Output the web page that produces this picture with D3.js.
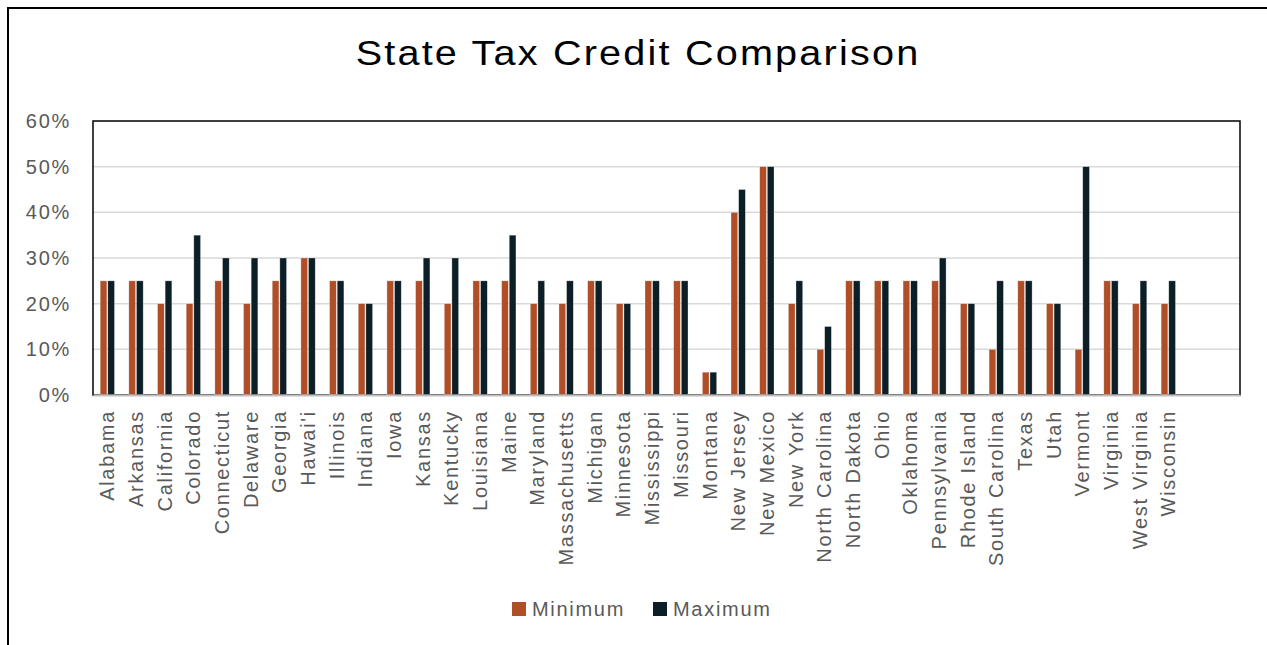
<!DOCTYPE html>
<html>
<head>
<meta charset="utf-8">
<script src="https://cdn.jsdelivr.net/npm/d3@7"></script>
<style>
  body { margin: 0; background: #fff; }
  text { font-family: "Liberation Sans", Arial, sans-serif; }
</style>
</head>
<body>
<div class="chart"></div>
<script>
var states = ["Alabama", "Arkansas", "California", "Colorado", "Connecticut", "Delaware",
  "Georgia", "Hawai'i", "Illinois", "Indiana", "Iowa", "Kansas", "Kentucky", "Louisiana",
  "Maine", "Maryland", "Massachusetts", "Michigan", "Minnesota", "Mississippi", "Missouri",
  "Montana", "New Jersey", "New Mexico", "New York", "North Carolina", "North Dakota",
  "Ohio", "Oklahoma", "Pennsylvania", "Rhode Island", "South Carolina", "Texas", "Utah",
  "Vermont", "Virginia", "West Virginia", "Wisconsin"];

var minimum = [25, 25, 20, 20, 25, 20, 25, 30, 25, 20, 25, 25, 20, 25, 25, 20, 20, 25, 20,
  25, 25, 5, 40, 50, 20, 10, 25, 25, 25, 25, 20, 10, 25, 20, 10, 25, 20, 20];

var maximum = [25, 25, 25, 35, 30, 30, 30, 30, 25, 20, 25, 30, 30, 25, 35, 25, 25, 25, 20,
  25, 25, 5, 45, 50, 25, 15, 25, 25, 25, 30, 20, 25, 25, 20, 50, 25, 25, 25];

// two empty slots at the end of the category axis, as in the source sheet
var blankSlots = [" ", "  "];

var seriesNames = ["Minimum", "Maximum"];
var seriesColors = ["#B04E28", "#0D1F26"];
var yTicks = [0, 10, 20, 30, 40, 50, 60];

var svgWidth = 1267;
var svgHeight = 645;

var margin = {
  top: 121,
  right: 27,
  bottom: 250,
  left: 93
};

var width = svgWidth - margin.left - margin.right;
var height = svgHeight - margin.top - margin.bottom;

var labelFont = "20px";
var labelSpacing = "1.7px";

var svg = d3
  .select(".chart")
  .append("svg")
  .attr("width", svgWidth)
  .attr("height", svgHeight);

// outer frame
svg.append("rect")
  .attr("x", 8)
  .attr("y", 8)
  .attr("width", 1300)
  .attr("height", 700)
  .attr("fill", "none")
  .attr("stroke", "#000")
  .attr("stroke-width", 2);

// title glyphs are wider than Arial's, so stretch it a bit
svg.append("text")
  .attr("transform", "translate(638, 65) scale(1.1, 1)")
  .attr("text-anchor", "middle")
  .attr("font-size", "36px")
  .attr("letter-spacing", "2px")
  .attr("fill", "#000")
  .text("State Tax Credit Comparison");

var chartGroup = svg.append("g")
  .attr("transform", `translate(${margin.left}, ${margin.top})`);

var data = states.map(function(s, i) {
  return { state: s, Minimum: minimum[i], Maximum: maximum[i] };
});

var xBand = d3.scaleBand()
  .domain(states.concat(blankSlots))
  .range([0, width])
  .paddingInner(0.5)
  .paddingOuter(0.25);

var xSeries = d3.scaleBand()
  .domain(seriesNames)
  .range([0, xBand.bandwidth()])
  .paddingInner(0.12);

var yLinearScale = d3.scaleLinear()
  .domain([0, 60])
  .range([height, 0]);

// gridlines
chartGroup.append("g")
  .selectAll("line")
  .data(yTicks.slice(1, -1))
  .enter()
  .append("line")
  .attr("x1", 0)
  .attr("x2", width)
  .attr("y1", d => yLinearScale(d))
  .attr("y2", d => yLinearScale(d))
  .attr("stroke", "#D9D9D9")
  .attr("stroke-width", 1.5);

// plot area border
chartGroup.append("rect")
  .attr("width", width)
  .attr("height", height)
  .attr("fill", "none")
  .attr("stroke", "#000")
  .attr("stroke-width", 1.5);

var leftAxis = d3.axisLeft(yLinearScale)
  .tickValues(yTicks)
  .tickFormat(d => d + "%")
  .tickSize(0)
  .tickPadding(22);

var yAxis = chartGroup.append("g")
  .classed("y-axis", true)
  .call(leftAxis);
yAxis.select(".domain").remove();
yAxis.selectAll("text")
  .attr("font-size", labelFont)
  .attr("letter-spacing", labelSpacing)
  .attr("fill", "#595959")
  .attr("font-family", "Liberation Sans, Arial, sans-serif");

// bars
var groups = chartGroup.selectAll(".state")
  .data(data)
  .enter()
  .append("g")
  .attr("class", "state")
  .attr("transform", d => `translate(${xBand(d.state)}, 0)`);

groups.selectAll("rect")
  .data(d => seriesNames.map(function(k, j) { return { key: k, value: d[k], color: seriesColors[j] }; }))
  .enter()
  .append("rect")
  .attr("x", d => xSeries(d.key))
  .attr("y", d => yLinearScale(d.value))
  .attr("width", xSeries.bandwidth())
  .attr("height", d => height - yLinearScale(d.value))
  .attr("fill", d => d.color)
  .attr("stroke", "#fff")
  .attr("stroke-opacity", 0.5)
  .attr("stroke-width", 0.6);

var bottomAxis = d3.axisBottom(xBand)
  .tickSize(0)
  .tickPadding(0);

var xAxis = chartGroup.append("g")
  .classed("x-axis", true)
  .attr("transform", `translate(0, ${height})`)
  .call(bottomAxis);
xAxis.select(".domain")
  .attr("stroke", "#BFBFBF")
  .attr("stroke-width", 2);
xAxis.selectAll("text")
  .attr("transform", "rotate(-90)")
  .attr("text-anchor", "end")
  .attr("x", -15)
  .attr("y", 0)
  .attr("dy", "0.35em")
  .attr("font-size", labelFont)
  .attr("letter-spacing", labelSpacing)
  .attr("fill", "#595959")
  .attr("font-family", "Liberation Sans, Arial, sans-serif");

// legend
var legend = svg.append("g")
  .attr("transform", "translate(512, 602)");

var legendItems = legend.selectAll("g")
  .data(seriesNames)
  .enter()
  .append("g")
  .attr("transform", (d, i) => `translate(${i * 141}, 0)`);

legendItems.append("rect")
  .attr("width", 14)
  .attr("height", 14)
  .attr("fill", (d, i) => seriesColors[i]);

legendItems.append("text")
  .attr("x", 20)
  .attr("y", 7)
  .attr("dy", "0.35em")
  .attr("font-size", labelFont)
  .attr("letter-spacing", labelSpacing)
  .attr("fill", "#595959")
  .text(d => d);
</script>
</body>
</html>
